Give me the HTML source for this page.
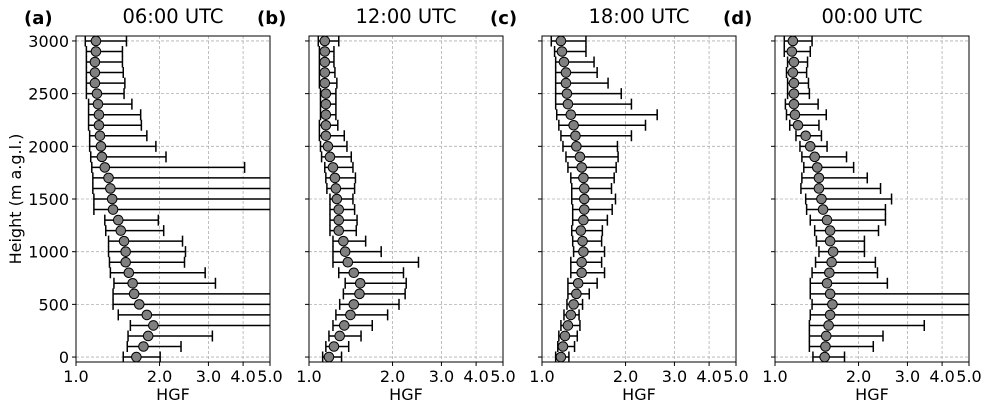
<!DOCTYPE html>
<html><head><meta charset="utf-8">
<style>
html,body{margin:0;padding:0;background:#fff;}
svg{display:block;font-family:"DejaVu Sans","Liberation Sans",sans-serif;}
</style></head>
<body>
<svg id="chart" width="989" height="409" viewBox="0 0 989 409" xmlns="http://www.w3.org/2000/svg"></svg>
<script>
// ---- data ----
const heights = [3000,2900,2800,2700,2600,2500,2400,2300,2200,2100,2000,1900,1800,1700,1600,1500,1400,1300,1200,1100,1000,900,800,700,600,500,400,300,200,100,0];
const panelLabels = ["(a)","(b)","(c)","(d)"];
const panelTitles = ["06:00 UTC","12:00 UTC","18:00 UTC","00:00 UTC"];
const xTicks = [1.0,2.0,3.0,4.0,5.0];
const xTickLabels = ["1.0","2.0","3.0","4.0","5.0"];
const yTicks = [0,500,1000,1500,2000,2500,3000];
const yTickLabels = ["0","500","1000","1500","2000","2500","3000"];

const centerA = [1.18,1.18,1.17,1.17,1.17,1.19,1.20,1.21,1.21,1.22,1.23,1.24,1.27,1.31,1.33,1.35,1.36,1.42,1.45,1.49,1.51,1.51,1.55,1.60,1.62,1.69,1.80,1.90,1.82,1.75,1.65];
const lowerA  = [1.08,1.09,1.09,1.09,1.09,1.09,1.11,1.11,1.11,1.12,1.12,1.13,1.14,1.15,1.15,1.16,1.16,1.27,1.28,1.31,1.31,1.32,1.33,1.37,1.36,1.36,1.42,1.57,1.54,1.53,1.48];
const upperA  = [1.52,1.47,1.47,1.48,1.50,1.49,1.59,1.71,1.72,1.80,1.94,2.11,4.05,6.0,6.0,6.0,6.0,1.98,2.07,2.42,2.48,2.46,2.92,3.18,6.0,6.0,6.0,6.0,3.10,2.39,2.01];

const centerB = [1.14,1.14,1.14,1.14,1.14,1.15,1.15,1.15,1.15,1.15,1.17,1.19,1.22,1.24,1.25,1.26,1.28,1.28,1.28,1.33,1.35,1.38,1.45,1.53,1.52,1.45,1.41,1.34,1.29,1.23,1.18];
const lowerB  = [1.08,1.09,1.09,1.09,1.09,1.10,1.10,1.10,1.09,1.09,1.10,1.11,1.14,1.15,1.16,1.19,1.19,1.19,1.19,1.22,1.22,1.22,1.28,1.35,1.33,1.29,1.25,1.22,1.18,1.15,1.12];
const upperB  = [1.28,1.23,1.23,1.24,1.26,1.25,1.25,1.25,1.27,1.34,1.37,1.42,1.44,1.47,1.46,1.44,1.46,1.49,1.48,1.60,1.82,2.48,2.19,2.24,2.22,2.11,1.92,1.69,1.54,1.39,1.31];

const centerC = [1.17,1.18,1.20,1.22,1.22,1.23,1.24,1.27,1.30,1.32,1.33,1.37,1.39,1.41,1.42,1.42,1.42,1.41,1.38,1.40,1.41,1.39,1.39,1.35,1.33,1.30,1.27,1.24,1.21,1.19,1.17];
const lowerC  = [1.08,1.11,1.12,1.12,1.12,1.12,1.12,1.13,1.15,1.17,1.19,1.22,1.24,1.27,1.28,1.28,1.29,1.29,1.28,1.29,1.30,1.27,1.27,1.24,1.24,1.23,1.20,1.17,1.15,1.14,1.12];
const upperC  = [1.44,1.44,1.54,1.58,1.73,1.93,2.10,2.60,2.36,2.10,1.87,1.88,1.85,1.82,1.78,1.84,1.79,1.72,1.65,1.64,1.68,1.64,1.68,1.58,1.48,1.40,1.36,1.37,1.34,1.31,1.25];

const centerD = [1.16,1.15,1.17,1.16,1.17,1.17,1.17,1.18,1.21,1.29,1.34,1.39,1.42,1.44,1.44,1.47,1.49,1.54,1.58,1.58,1.62,1.60,1.57,1.54,1.58,1.61,1.58,1.56,1.53,1.52,1.51];
const lowerD  = [1.08,1.08,1.11,1.10,1.11,1.11,1.09,1.10,1.13,1.19,1.23,1.25,1.27,1.25,1.24,1.29,1.30,1.34,1.39,1.41,1.44,1.40,1.36,1.34,1.34,1.36,1.34,1.33,1.33,1.33,1.37];
const upperD  = [1.36,1.34,1.31,1.30,1.32,1.33,1.43,1.53,1.44,1.47,1.54,1.81,1.92,2.15,2.40,2.63,2.50,2.50,2.36,2.10,2.10,2.30,2.34,2.54,6.0,6.0,6.0,3.45,2.45,2.26,1.78];

const centers = [centerA,centerB,centerC,centerD];
const lowers = [lowerA,lowerB,lowerC,lowerD];
const uppers = [upperA,upperB,upperC,upperD];

// ---- layout ----
const NS = "http://www.w3.org/2000/svg";
const svg = document.getElementById('chart');
const panelLeft = [76,309,542,775];
const PW = 194, PT = 36, PB = 362;
const xMin = 1.0, xMax = 5.0, yMin = -47, yMax = 3047;
function xScale(v, i){ const c = Math.min(Math.max(v, xMin*0.98), xMax*1.05); return panelLeft[i] + (Math.log10(c)-Math.log10(xMin))/(Math.log10(xMax)-Math.log10(xMin))*PW; }
function yScale(h){ return PB - (h - yMin)/(yMax - yMin)*(PB-PT); }
function mk(tag, attrs, parent){ const e = document.createElementNS(NS, tag); for (const k in attrs) e.setAttribute(k, attrs[k]); (parent||svg).appendChild(e); return e; }

for (let p=0; p<4; p++){
  const L = panelLeft[p], R = L+PW;
  const g = mk('g', {});
  
  
  const clipId = 'clip'+p;
  const cp = mk('clipPath', {id: clipId}, g);
  mk('rect', {x:L, y:PT, width:PW, height:PB-PT}, cp);
  xTicks.forEach((t)=>{
    const x = xScale(t,p);
    const gl = mk('line', {x1:x, x2:x, y1:PT, y2:PB, stroke:'#b0b0b0', 'stroke-width':0.8, 'stroke-dasharray':'3,2'}, g);
    
    
  });
  yTicks.forEach((t)=>{
    const y = yScale(t);
    const gl = mk('line', {x1:L, x2:R, y1:y, y2:y, stroke:'#b0b0b0', 'stroke-width':0.8, 'stroke-dasharray':'3,2'}, g);
    
    
  });
  const sg = mk('g', {'clip-path':'url(#'+clipId+')'}, g);
  
  
  heights.forEach((h, k)=>{
    const y = yScale(h);
    const x0 = xScale(lowers[p][k],p), x1 = xScale(uppers[p][k],p), xc = xScale(centers[p][k],p);
    const eb = mk('path', {d:`M${x0},${y}H${x1}M${x0},${y-5.5}V${y+5.5}M${x1},${y-5.5}V${y+5.5}`, stroke:'#000', 'stroke-width':1.5, fill:'none'}, sg);
    
    
    const c = mk('circle', {cx:xc, cy:y, r:4.8, fill:'#808080', stroke:'#000', 'stroke-width':1}, sg);
    
    
  });
  const fr = mk('rect', {x:L, y:PT, width:PW, height:PB-PT, fill:'none', stroke:'#000', 'stroke-width':1}, g);
  
  
  xTicks.forEach((t, k)=>{
    const x = xScale(t,p);
    mk('line', {x1:x, x2:x, y1:PB, y2:PB+4, stroke:'#000', 'stroke-width':1}, g);
    const tl = mk('text', {x:x, y:PB+20, 'font-size':16, 'text-anchor':'middle', fill:'#000'}, g);
    tl.textContent = xTickLabels[k];
    
    
  });
  yTicks.forEach((t, k)=>{
    const y = yScale(t);
    mk('line', {x1:L-4, x2:L, y1:y, y2:y, stroke:'#000', 'stroke-width':1}, g);
    if (p===0){
      const tl = mk('text', {x:L-7, y:y+6, 'font-size':16, 'text-anchor':'end', fill:'#000'}, g);
      tl.textContent = yTickLabels[k];
      
      
    }
  });
  const xt = mk('text', {x:L+PW/2, y:400, 'font-size':16, 'text-anchor':'middle', fill:'#000'}, g);
  xt.textContent = 'HGF';
  
  
  const tt = mk('text', {x:L+PW/2, y:23, 'font-size':19.5, 'text-anchor':'middle', fill:'#000'}, g);
  tt.textContent = panelTitles[p];
  
  
  const pl = mk('text', {x:L-52, y:24, 'font-size':18, 'font-weight':'bold', 'text-anchor':'start', fill:'#000'}, g);
  pl.textContent = panelLabels[p];
  
  
}
const yl = mk('text', {x:0, y:0, 'font-size':16, 'text-anchor':'middle', fill:'#000', transform:'translate(21,199) rotate(-90)'});
yl.textContent = 'Height (m a.g.l.)';


</script>
</body></html>
